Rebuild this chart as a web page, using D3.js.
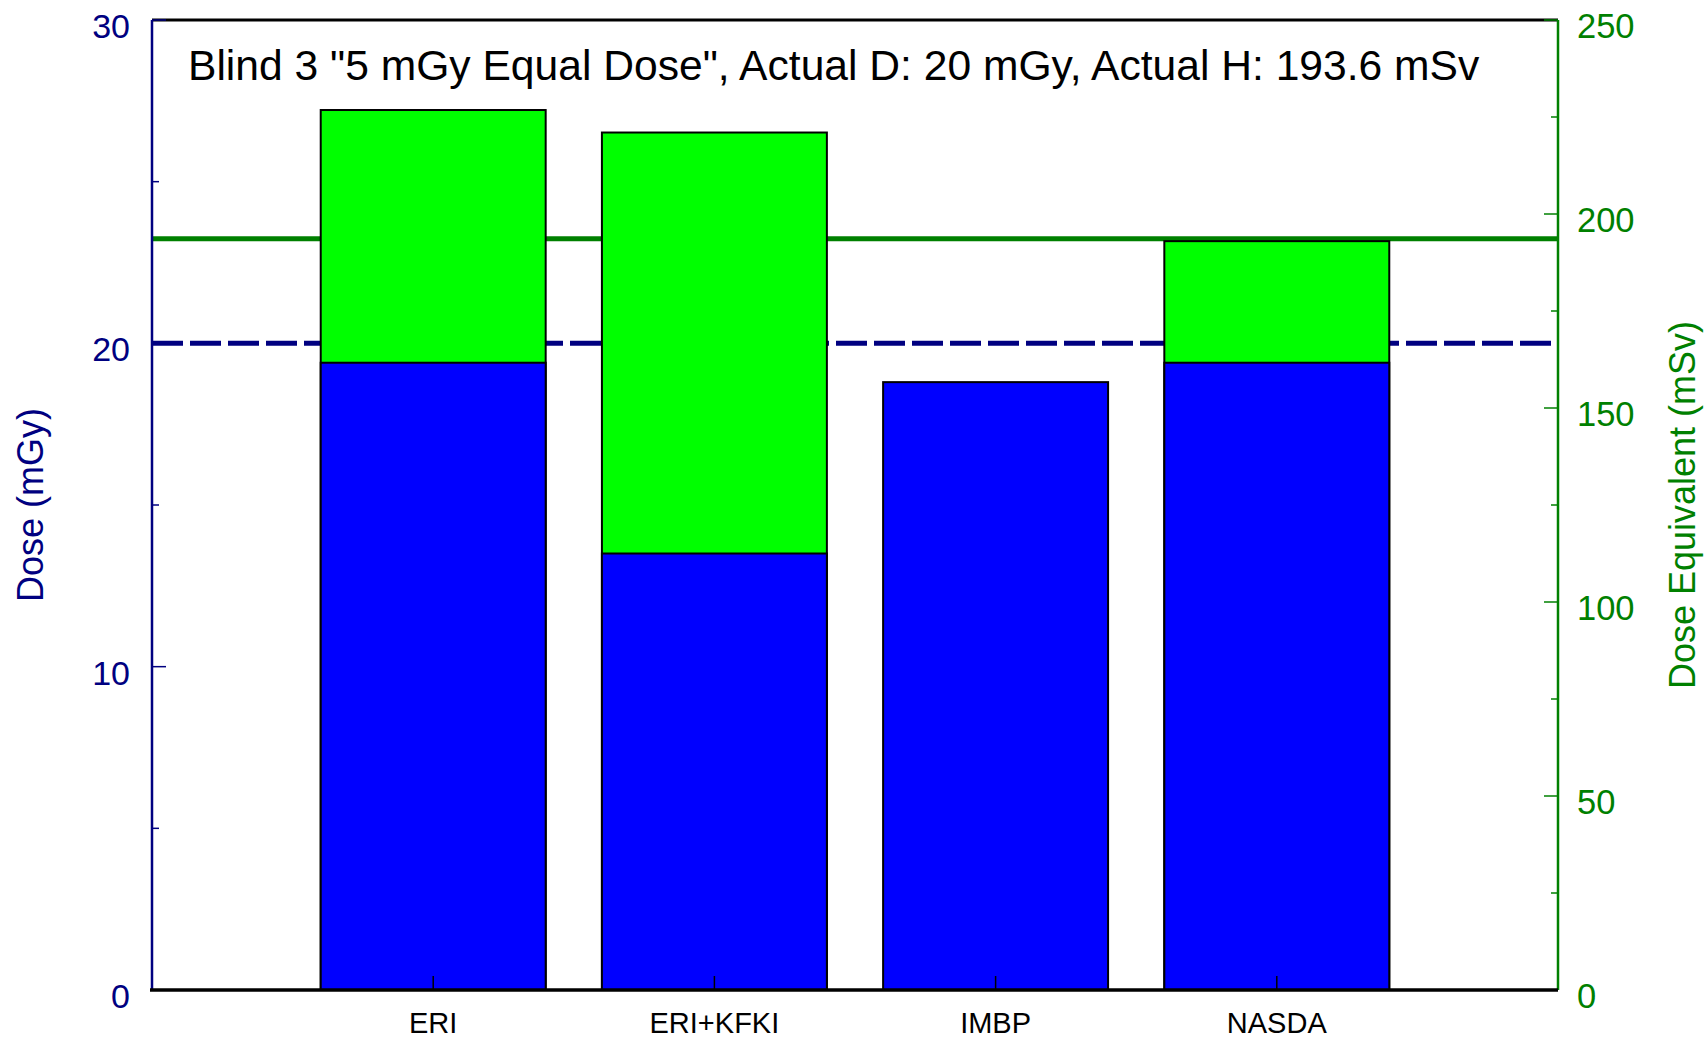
<!DOCTYPE html>
<html>
<head>
<meta charset="utf-8">
<script src="https://cdn.jsdelivr.net/npm/d3@7"></script>
<style>
  body { margin: 0; background: #fff; }
  svg { display: block; font-family: 'Liberation Sans', Arial, sans-serif; }
</style>
</head>
<body>
<svg id="chart"></svg>
<script>
// values
const categories = ['ERI', 'ERI+KFKI', 'IMBP', 'NASDA']
const doseMGy = [19.4, 13.5, 18.8, 19.4]
const doseEqMSv = [226.8, 221.0, null, 193.0]
const actualDose = 20
const actualH = 193.6
const leftMajor = [0, 10, 20, 30]
const leftMinor = [5, 15, 25]
const rightMajor = [0, 50, 100, 150, 200, 250]
const rightMinor = [25, 75, 125, 175, 225]
const title = 'Blind 3 "5 mGy Equal Dose", Actual D: 20 mGy, Actual H: 193.6 mSv'

const w = 1705
const h = 1040
const plotL = 152
const plotR = 1558
const plotT = 20
const plotB = 990

const navy = '#000080'
const green = '#008000'

const svg = d3.select('#chart').attr('width', w).attr('height', h)

const x = d3.scalePoint().domain(categories).range([plotL, plotR]).padding(1)
const barW = x.step() * 0.8
const yL = d3.scaleLinear().domain([0, 30]).range([plotB, plotT])
const yR = d3.scaleLinear().domain([0, 250]).range([plotB, plotT])

// reference lines (under the bars)
svg.append('line')
  .attr('x1', plotL).attr('x2', plotR)
  .attr('y1', yR(actualH)).attr('y2', yR(actualH))
  .attr('stroke', green).attr('stroke-width', 5)

svg.append('line')
  .attr('x1', plotL).attr('x2', plotR)
  .attr('y1', yL(actualDose)).attr('y2', yL(actualDose))
  .attr('stroke', navy).attr('stroke-width', 5)
  .attr('stroke-dasharray', '31 7')

const rows = categories.map((c, i) => ({ c, d: doseMGy[i], hv: doseEqMSv[i] }))

svg.selectAll('rect.heq')
  .data(rows.filter((r) => r.hv != null))
  .enter()
  .append('rect')
  .attr('class', 'heq')
  .attr('x', (r) => x(r.c) - barW / 2)
  .attr('width', barW)
  .attr('y', (r) => yR(r.hv))
  .attr('height', (r) => yR(0) - yR(r.hv))
  .attr('fill', '#00ff00')
  .attr('stroke', '#000')
  .attr('stroke-width', 2)

svg.selectAll('rect.dose')
  .data(rows)
  .enter()
  .append('rect')
  .attr('class', 'dose')
  .attr('x', (r) => x(r.c) - barW / 2)
  .attr('width', barW)
  .attr('y', (r) => yL(r.d))
  .attr('height', (r) => yL(0) - yL(r.d))
  .attr('fill', '#0000ff')
  .attr('stroke', '#000')
  .attr('stroke-width', 2)

// frame top in black
svg.append('line')
  .attr('x1', plotL).attr('x2', plotR).attr('y1', plotT).attr('y2', plotT)
  .attr('stroke', '#000').attr('stroke-width', 3)

// left axis
const gL = svg.append('g').attr('transform', `translate(${plotL},0)`)
gL.append('line').attr('y1', plotT).attr('y2', plotB).attr('stroke', navy).attr('stroke-width', 2.5)
gL.selectAll('line.maj').data(leftMajor).enter().append('line')
  .attr('x1', 0).attr('x2', 14).attr('y1', (d) => yL(d)).attr('y2', (d) => yL(d))
  .attr('stroke', navy).attr('stroke-width', 1.5)
gL.selectAll('line.min').data(leftMinor).enter().append('line')
  .attr('x1', 0).attr('x2', 7).attr('y1', (d) => yL(d)).attr('y2', (d) => yL(d))
  .attr('stroke', navy).attr('stroke-width', 1.5)
gL.selectAll('text').data(leftMajor).enter().append('text')
  .attr('x', -22).attr('y', (d) => yL(d) + 18)
  .attr('text-anchor', 'end').attr('font-size', 34).attr('fill', navy)
  .text((d) => d)

// right axis
const gR = svg.append('g').attr('transform', `translate(${plotR},0)`)
gR.append('line').attr('y1', plotT).attr('y2', plotB).attr('stroke', green).attr('stroke-width', 2.5)
gR.selectAll('line.maj').data(rightMajor).enter().append('line')
  .attr('x1', 0).attr('x2', -14).attr('y1', (d) => yR(d)).attr('y2', (d) => yR(d))
  .attr('stroke', green).attr('stroke-width', 1.5)
gR.selectAll('line.min').data(rightMinor).enter().append('line')
  .attr('x1', 0).attr('x2', -7).attr('y1', (d) => yR(d)).attr('y2', (d) => yR(d))
  .attr('stroke', green).attr('stroke-width', 1.5)
gR.selectAll('text').data(rightMajor).enter().append('text')
  .attr('x', 19).attr('y', (d) => yR(d) + 18)
  .attr('text-anchor', 'start').attr('font-size', 34.5).attr('fill', green)
  .text((d) => d)

// bottom axis
const gB = svg.append('g')
gB.append('line').attr('x1', plotL - 2).attr('x2', plotR).attr('y1', plotB).attr('y2', plotB)
  .attr('stroke', '#000').attr('stroke-width', 3.5)
gB.selectAll('line.tk').data(categories).enter().append('line')
  .attr('x1', (c) => x(c)).attr('x2', (c) => x(c)).attr('y1', plotB).attr('y2', plotB - 14)
  .attr('stroke', '#000').attr('stroke-width', 1.5)
gB.selectAll('text').data(categories).enter().append('text')
  .attr('x', (c) => x(c)).attr('y', 1033)
  .attr('text-anchor', 'middle').attr('font-size', 29).attr('fill', '#000')
  .text((c) => c)

// axis titles
svg.append('text')
  .attr('transform', `translate(43,${(plotT + plotB) / 2}) rotate(-90)`)
  .attr('text-anchor', 'middle').attr('font-size', 36).attr('fill', navy)
  .text('Dose (mGy)')

svg.append('text')
  .attr('transform', `translate(1695,${(plotT + plotB) / 2}) rotate(-90)`)
  .attr('text-anchor', 'middle').attr('font-size', 36).attr('fill', green)
  .text('Dose Equivalent (mSv)')

svg.append('text')
  .attr('x', 188).attr('y', 80)
  .attr('font-size', 42.6).attr('fill', '#000')
  .text(title)
</script>
</body>
</html>
